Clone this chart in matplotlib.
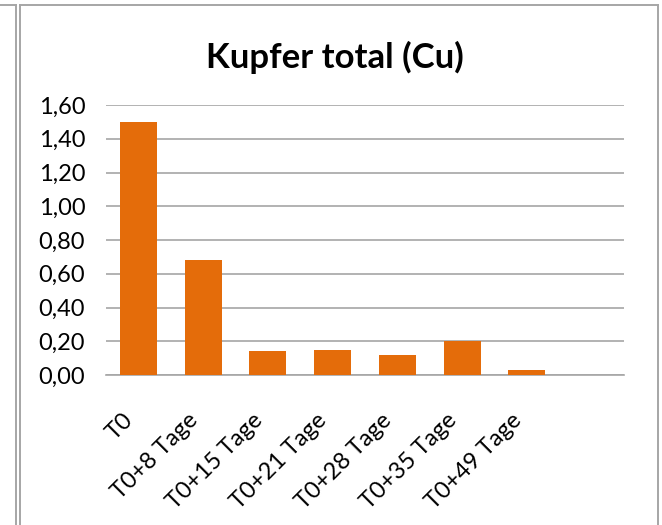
import matplotlib
matplotlib.use("Agg")
import matplotlib.pyplot as plt
from matplotlib.lines import Line2D
from matplotlib.transforms import ScaledTranslation

categories = ["T0", "T0+8 Tage", "T0+15 Tage", "T0+21 Tage", "T0+28 Tage",
              "T0+35 Tage", "T0+49 Tage", ""]
values = [1.50, 0.68, 0.14, 0.15, 0.12, 0.20, 0.03, None]
yticks = [0.0, 0.2, 0.4, 0.6, 0.8, 1.0, 1.2, 1.4, 1.6]
ytick_labels = ["0,00", "0,20", "0,40", "0,60", "0,80", "1,00", "1,20", "1,40", "1,60"]
title = "Kupfer total (Cu)"

plt.rcParams['font.family'] = ['Lato', 'DejaVu Sans']

W, H = 662, 525
fig = plt.figure(figsize=(W / 100, H / 100), dpi=100)
fig.patch.set_facecolor("white")


def fx(px):
    return px / W


def fy(py):
    return 1 - py / H


border = "#a6a6a6"
for x0, y0, x1, y1 in [(20, 5, 658, 5), (20, 5, 20, 525), (658, 5, 658, 525),
                       (15.5, 5, 15.5, 525), (0, 5, 15.5, 5)]:
    fig.add_artist(Line2D([fx(x0), fx(x1)], [fy(y0), fy(y1)], color=border,
                          lw=1.4, transform=fig.transFigure))

ax = fig.add_axes([fx(106), fy(375), fx(624) - fx(106), fy(105) - fy(375)])

xs = list(range(len(categories)))
bx = [x for x, v in zip(xs, values) if v is not None]
bv = [v for v in values if v is not None]
ax.bar(bx, bv, width=0.57, color="#E46C0A", zorder=3)

ax.set_xlim(-0.5, len(categories) - 0.5)
ax.set_ylim(0, 1.6)
ax.set_yticks(yticks)
ax.set_yticklabels(ytick_labels, fontsize=17, color="#000000")
ax.yaxis.grid(True, color="#a6a6a6", lw=1.2, zorder=0)
ax.set_axisbelow(True)
for s in ["left", "right", "top"]:
    ax.spines[s].set_visible(False)
ax.spines["bottom"].set_color("#a6a6a6")
ax.spines["bottom"].set_linewidth(1.2)
ax.tick_params(axis="y", length=0, pad=15)
ax.tick_params(axis="x", length=0, pad=30)
ax.set_xticks(xs)
ax.set_xticklabels(categories, fontsize=17, rotation=45, ha="right",
                   va="center", rotation_mode="anchor")
shift = ScaledTranslation(-9 / 100, 0, fig.dpi_scale_trans)
for lbl in ax.get_xticklabels():
    lbl.set_transform(lbl.get_transform() + shift)

fig.text(fx(335), fy(57), title, fontsize=25, fontweight="bold",
         ha="center", va="center")

fig.savefig("out.png", dpi=100, facecolor="white")
